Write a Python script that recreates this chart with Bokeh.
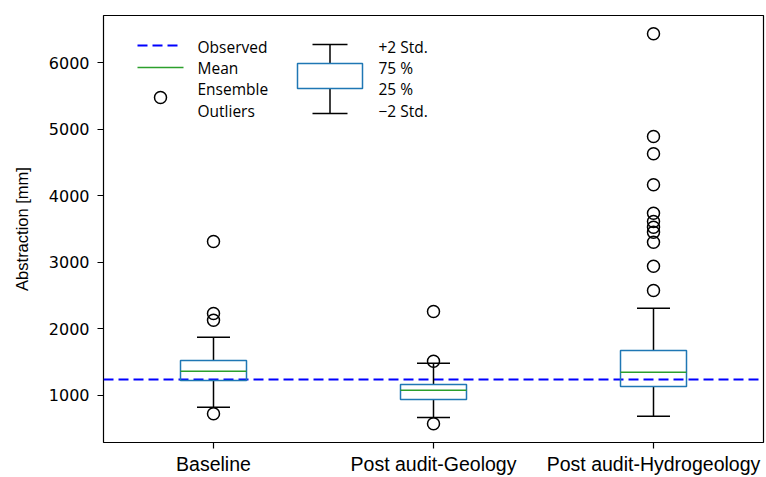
from bokeh.plotting import figure
from bokeh.models import Range1d, FixedTicker
from bokeh.core.properties import value
from bokeh.embed import file_html
from bokeh.resources import INLINE

# ---------------- data ----------------
categories = ["Baseline", "Post audit-Geology", "Post audit-Hydrogeology"]
q75 = [1525, 1165, 1676]
q25 = [1225, 940, 1135]
mean_vals = [1365, 1080, 1350]
upper_whisker = [1875, 1485, 2311]
lower_whisker = [824, 670, 690]
outliers_baseline = [3312, 2232, 2130, 725]
outliers_geology = [2261, 1515, 575]
outliers_hydro = [6431, 4889, 4630, 4165, 3737, 3613, 3527, 3452, 3302, 2941, 2577]
observed = 1240
y_ticks = [1000, 2000, 3000, 4000, 5000, 6000]

legend_lines = ["Observed", "Mean", "Ensemble", "Outliers"]
legend_box_labels = ["+2 Std.", "75 %", "25 %", "\u22122 Std."]

# ---------------- figure ----------------
Y0, Y1 = 294, 6706
p = figure(width=766, height=477, output_backend="svg", toolbar_location=None,
           x_range=Range1d(0.5, 3.5), y_range=Range1d(Y0, Y1),
           min_border_left=103, min_border_top=15, min_border_right=3, min_border_bottom=35)
p.grid.visible = False
p.outline_line_color = "black"
p.outline_line_width = 1.2
p.background_fill_color = "white"
p.border_fill_color = "white"

pos = [i + 1 for i in range(len(categories))]
BW = 0.3   # box width (x units)
CW = 0.15  # cap width

# observed line
p.line([0.5, 3.5], [observed, observed], line_color="blue", line_width=2, line_dash="10 5")

# whiskers
p.segment(x0=pos, y0=q75, x1=pos, y1=upper_whisker, line_color="black", line_width=1.5)
p.segment(x0=pos, y0=q25, x1=pos, y1=lower_whisker, line_color="black", line_width=1.5)
# caps
p.segment(x0=[x - CW / 2 for x in pos], y0=upper_whisker, x1=[x + CW / 2 for x in pos], y1=upper_whisker,
          line_color="black", line_width=1.5)
p.segment(x0=[x - CW / 2 for x in pos], y0=lower_whisker, x1=[x + CW / 2 for x in pos], y1=lower_whisker,
          line_color="black", line_width=1.5)
# boxes
p.quad(left=[x - BW / 2 for x in pos], right=[x + BW / 2 for x in pos], top=q75, bottom=q25,
       fill_color="white", fill_alpha=0.0, line_color="#1f77b4", line_width=1.5)
# means
p.segment(x0=[x - BW / 2 for x in pos], y0=mean_vals, x1=[x + BW / 2 for x in pos], y1=mean_vals,
          line_color="#2ca02c", line_width=1.5)
# outliers
for x, outs in zip(pos, [outliers_baseline, outliers_geology, outliers_hydro]):
    p.scatter([x] * len(outs), outs, marker="circle", size=12, fill_alpha=0,
              line_color="black", line_width=1.5)

# ---------------- hand-drawn legend (pixel layout -> data) ----------------
FX0, FX1, FY0, FY1 = 103, 763, 15, 442
def dx(px):
    return 0.5 + (px - FX0) / (FX1 - FX0) * 3.0
def dy(py):
    return Y1 - (py - FY0) / (FY1 - FY0) * (Y1 - Y0)

row_y = [46, 67, 88, 110]
p.line([dx(137), dx(181)], [dy(45), dy(45)], line_color="blue", line_width=2, line_dash="10 5")
p.line([dx(137), dx(183)], [dy(67), dy(67)], line_color="#2ca02c", line_width=1.5)
p.scatter([dx(160)], [dy(97)], marker="circle", size=12, fill_alpha=0, line_color="black", line_width=1.5)
p.text(x=[dx(197)] * 4, y=[dy(v) for v in row_y], text=legend_lines,
       text_font=value("Open Sans"), text_font_size="15.5px", text_baseline="middle", text_align="left",
       text_color="black")

bx = 329.5
p.segment(x0=[dx(bx), dx(bx)], y0=[dy(44), dy(88)], x1=[dx(bx), dx(bx)], y1=[dy(63), dy(113)],
          line_color="black", line_width=1.5)
p.segment(x0=[dx(312), dx(312)], y0=[dy(44), dy(113)], x1=[dx(347), dx(347)], y1=[dy(44), dy(113)],
          line_color="black", line_width=1.5)
p.quad(left=[dx(297)], right=[dx(362)], top=[dy(63)], bottom=[dy(88)],
       fill_color="white", fill_alpha=1.0, line_color="#1f77b4", line_width=1.5)
p.text(x=[dx(378)] * 4, y=[dy(v) for v in row_y], text=legend_box_labels,
       text_font=value("Open Sans"), text_font_size="15.5px", text_baseline="middle", text_align="left",
       text_color="black")

# ---------------- axes ----------------
p.xaxis.ticker = FixedTicker(ticks=pos)
p.xaxis.major_label_overrides = {x: c for x, c in zip(pos, categories)}
p.xaxis.major_label_text_font = "Liberation Sans"
p.xaxis.major_label_text_font_size = "19.5px"
p.xaxis.major_label_standoff = 4
p.yaxis.ticker = FixedTicker(ticks=y_ticks)
p.yaxis.major_label_text_font = "DejaVu Sans"
p.yaxis.major_label_text_font_size = "16px"
p.yaxis.major_label_standoff = 8
p.yaxis.axis_label = "Abstraction [mm]"
p.yaxis.axis_label_text_font = "Liberation Sans"
p.yaxis.axis_label_text_font_size = "16.5px"
p.yaxis.axis_label_text_font_style = "normal"
p.yaxis.axis_label_standoff = 15
for ax in (p.xaxis, p.yaxis):
    ax.axis_line_color = None
    ax.major_tick_out = 6
    ax.major_tick_in = 0
    ax.minor_tick_line_color = None
    ax.major_tick_line_color = "black"
    ax.major_tick_line_width = 1.2
    ax.major_label_text_color = "black"
    ax.axis_label_text_color = "black"

open("out.html", "w").write(file_html(p, INLINE))
